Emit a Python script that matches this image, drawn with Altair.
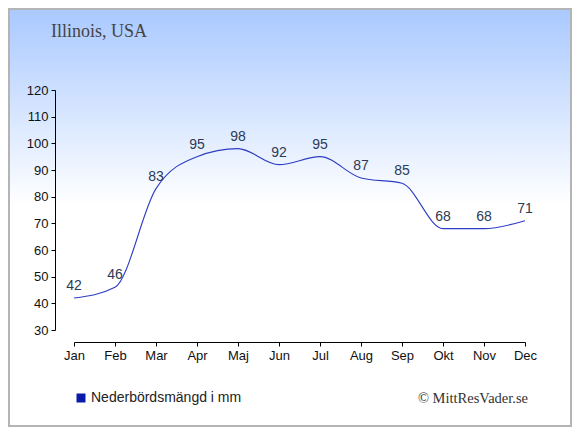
import altair as alt
import pandas as pd

months = ["Jan", "Feb", "Mar", "Apr", "Maj", "Jun", "Jul", "Aug", "Sep", "Okt", "Nov", "Dec"]
values = [42, 46, 83, 95, 98, 92, 95, 87, 85, 68, 68, 71]
y_ticks = [30, 40, 50, 60, 70, 80, 90, 100, 110, 120]
series_name = "Nederbördsmängd i mm"
title_text = "Illinois, USA"
credit_text = "© MittResVader.se"

df = pd.DataFrame({"month": months, "value": values, "serie": [series_name] * len(months)})
one = pd.DataFrame({"k": [0]})

W, H = 451, 240
PL, PT = 66, 82
TOTW, TOTH = 564, 419

bg = alt.Chart(one).mark_rect(
    color=alt.LinearGradient(
        gradient="linear", x1=0, y1=0, x2=0, y2=1,
        stops=[alt.GradientStop(offset=0, color="#A9C9FF"),
               alt.GradientStop(offset=0.47, color="#FFFFFF"),
               alt.GradientStop(offset=1, color="#FFFFFF")]),
    stroke="#B4B4B4", strokeWidth=2,
).encode(x=alt.value(-PL + 1), x2=alt.value(TOTW - PL - 1),
         y=alt.value(-PT + 1), y2=alt.value(TOTH - PT - 1))

xenc = alt.X("month:N", sort=months, title=None,
             scale=alt.Scale(type="point", padding=0),
             axis=alt.Axis(labelAngle=0, offset=12, domainColor="#000", tickColor="#000",
                           tickSize=4, labelFontSize=13, labelColor="#111",
                           labelFont="Liberation Sans", labelPadding=3, grid=False, zindex=1,
                           labelOverlap=False))
yenc = alt.Y("value:Q", title=None,
             scale=alt.Scale(domain=[30, 120], nice=False, zero=False),
             axis=alt.Axis(values=y_ticks, offset=19, domainColor="#000",
                           tickColor="#000", tickSize=4, labelFontSize=13, labelColor="#111",
                           labelFont="Liberation Sans", labelPadding=3, grid=False, zindex=1,
                           labelOverlap=False, labelFlush=False))

line = alt.Chart(df).mark_line(interpolate="monotone", strokeWidth=1.1).encode(
    x=xenc, y=yenc,
    color=alt.Color("serie:N", title=None,
                    scale=alt.Scale(range=["#2D3CC4"]),
                    legend=alt.Legend(orient="none", legendX=0, legendY=301,
                                      symbolType="square", symbolFillColor="#0A1AA8",
                                      symbolStrokeColor="#0A1AA8", symbolStrokeWidth=0,
                                      symbolSize=81, labelFontSize=14, labelColor="#222",
                                      labelFont="Liberation Sans", labelOffset=3)),
)

labels = alt.Chart(df).mark_text(dy=-12, fontSize=14, color="#2B3A55",
                                 font="Liberation Sans").encode(
    x=xenc, y=yenc, text="value:Q")

title = alt.Chart(one).mark_text(text=title_text, font="Liberation Serif", fontSize=18,
                                 color="#444", align="left", baseline="alphabetic").encode(
    x=alt.value(51 - 74), y=alt.value(37 - 90))

credit = alt.Chart(one).mark_text(text=credit_text, font="Liberation Serif", fontSize=14.5,
                                  color="#333", align="right", baseline="alphabetic").encode(
    x=alt.value(528 - 74), y=alt.value(403 - 90))

chart = alt.layer(bg, line, labels, title, credit).properties(
    width=W, height=H,
    autosize=alt.AutoSizeParams(type="none"),
    padding={"left": PL, "top": PT, "right": TOTW - PL - W, "bottom": TOTH - PT - H},
).configure_view(stroke=None)

chart.save("out.html", embed_options={"renderer": "svg", "actions": False})
